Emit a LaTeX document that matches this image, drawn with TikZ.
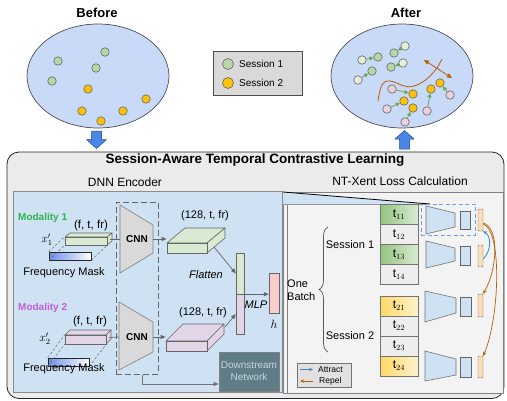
\documentclass[tikz,border=0pt]{standalone}
\usepackage{fontspec}
\setmainfont{Liberation Sans}
\usetikzlibrary{arrows.meta,decorations.pathreplacing,calc,shapes.geometric}
\newcommand{\fsz}[2]{\fontsize{#1pt}{#2pt}\selectfont}
\definecolor{ellfill}{HTML}{C9DAF8}
\definecolor{dotgreen}{HTML}{B6D7A8}
\definecolor{dotpale}{HTML}{E2EFDC}
\definecolor{dotorange}{HTML}{FFC107}
\definecolor{dotpink}{HTML}{EAD1DC}
\definecolor{arrgreen}{HTML}{6AA84F}
\definecolor{brownc}{HTML}{B45F06}
\definecolor{bigbox}{HTML}{EBEBEB}
\definecolor{leftpanel}{HTML}{CFE2F3}
\definecolor{rightpanel}{HTML}{F3F3F3}
\definecolor{boxgreen}{HTML}{D9EAD3}
\definecolor{boxpurple}{HTML}{E1D5E7}
\definecolor{modgreen}{HTML}{2EB34F}
\definecolor{modpurple}{HTML}{BF5FD9}
\definecolor{hpink}{HTML}{F8CECC}
\definecolor{downfill}{HTML}{5F7D87}
\definecolor{downtext}{HTML}{C8D3D9}
\definecolor{tgreenD}{HTML}{93C47D}
\definecolor{tgreenL}{HTML}{D9EAD3}
\definecolor{tyellowD}{HTML}{FFD966}
\definecolor{tyellowL}{HTML}{FFF2CC}
\definecolor{tgray}{HTML}{EEEEEE}
\definecolor{barorange}{HTML}{FCDDB4}
\definecolor{attractblue}{HTML}{3D85C6}
\definecolor{arrowblue}{HTML}{4A86E8}
\definecolor{arrowdark}{HTML}{1C4587}
\definecolor{maskblue}{HTML}{6D8FE8}
\definecolor{legendgray}{HTML}{D9D9D9}
\definecolor{cnngray}{HTML}{D9D9D9}
\definecolor{dashblue}{HTML}{6D9EEB}
\tikzset{
  dot/.style={circle, draw=black!60, line width=0.6pt, minimum size=8.5pt, inner sep=0pt},
  gdot/.style={dot, fill=dotgreen},
  odot/.style={dot, fill=dotorange},
  pdot/.style={dot, fill=dotpale},
  kdot/.style={dot, fill=dotpink},
  garr/.style={arrgreen, line width=0.8pt, -{Triangle[length=4pt,width=4pt]}},
  grayarr/.style={black!60, line width=0.7pt, -{Triangle[length=5pt,width=4pt]}},
  txt/.style={inner sep=0pt},
  tblk/.style={draw=black!55, minimum width=38pt, minimum height=20pt, inner sep=0pt, font=\fsz{12}{14}},
  bar/.style={draw=black!55, fill=barorange, minimum width=5pt, rounded corners=1pt, inner sep=0pt},
  sbox/.style={draw=black!60, fill=leftpanel, inner sep=0pt},
  trap/.style={draw=black!55, fill=leftpanel, line width=0.6pt},
  fbox/.style={draw=black!60, line width=0.6pt, line join=round},
  vec/.style={draw=black!60, minimum width=8pt, inner sep=0pt},
  attract/.style={attractblue, line width=0.8pt, -{Stealth[length=4pt,width=3.5pt]}},
  repel/.style={brownc, line width=0.7pt, -{Stealth[length=4pt,width=3.5pt]}},
}
\begin{document}
\begin{tikzpicture}[x=1pt,y=-1pt]
\useasboundingbox (0,0) rectangle (507,400);

% ---------------- Before ----------------
\node[txt, font=\fsz{13}{15}\bfseries] (before) at (97,13) {Before};
\node[ellipse, draw=black!70, fill=ellfill, line width=0.7pt, minimum width=142pt, minimum height=104pt, inner sep=0pt] (ellB) at (98,76) {};
\node[gdot] (bg1) at (58,61) {};
\node[gdot] (bg2) at (105,52) {};
\node[gdot] (bg3) at (96,68) {};
\node[gdot] (bg4) at (52,81) {};
\node[odot] (bo1) at (88,89) {};
\node[odot] (bo2) at (146,99) {};
\node[odot] (bo3) at (82,111) {};
\node[odot] (bo4) at (123,111) {};
\node[odot] (bo5) at (101,121) {};
\draw[fill=arrowblue, draw=arrowdark, line width=0.5pt, line join=round]
  (91.5,131)--(101.5,131)--(101.5,139.5)--(106.5,139.5)--(96.5,148.5)--(86.5,139.5)--(91.5,139.5)--cycle;

% ---------------- Legend ----------------
\node[draw=black!70, fill=legendgray, line width=0.7pt, minimum width=89pt, minimum height=44pt, inner sep=0pt] (leg) at (257.5,73) {};
\node[dot, fill=dotgreen, minimum size=11pt] (lg) at (228,64) {};
\node[dot, fill=dotorange, minimum size=11pt] (lo) at (228,83) {};
\node[txt, anchor=west, font=\fsz{10}{12}] (lt1) at (239,64) {Session 1};
\node[txt, anchor=west, font=\fsz{10}{12}] (lt2) at (239,83) {Session 2};

% ---------------- After ----------------
\node[txt, font=\fsz{13}{15}\bfseries] (after) at (406,13) {After};
\node[ellipse, draw=black!70, fill=ellfill, line width=0.7pt, minimum width=142pt, minimum height=104pt, inner sep=0pt] (ellA) at (402,76) {};
\draw[brownc, line width=0.8pt] (378,101) .. controls (380,86) and (383,80) .. (390,81)
  .. controls (398,82) and (404,89) .. (414,86) .. controls (425,83) and (436,72) .. (442,59);
\coordinate (da) at (424,60);
\coordinate (db) at (452,78);
\draw[brownc, line width=0.8pt, {Triangle[length=5pt,width=4.5pt]}-{Triangle[length=5pt,width=4.5pt]}] (da) -- (db);
\node[pdot] (a1) at (362,60) {};
\node[gdot] (g1) at (378,57) {};
\node[pdot] (a2) at (358,80) {};
\node[gdot] (g2) at (372,71) {};
\node[pdot] (a3) at (405,46) {};
\node[gdot] (g3) at (394,53) {};
\node[pdot] (a4) at (403,63) {};
\node[gdot] (g4) at (391,67) {};
\node[odot] (o1) at (413,94) {};
\node[odot] (o2) at (404,101) {};
\node[odot] (o3) at (413,108) {};
\node[odot] (o4) at (431,89) {};
\node[odot] (o5) at (440,83) {};
\node[kdot] (k1) at (392,89) {};
\node[kdot] (k2) at (387,109) {};
\node[kdot] (k3) at (405,122) {};
\node[kdot] (k4) at (427,111) {};
\node[kdot] (k5) at (450,95) {};
\foreach \s/\t in {a1/g1,a2/g2,a3/g3,a4/g4,k1/o1,k2/o2,k3/o3,k4/o4,k5/o5}
  \draw[garr] (\s) -- (\t);
\draw[fill=arrowblue, draw=arrowdark, line width=0.5pt, line join=round]
  (404.5,130.5)--(414,139)--(409.5,139)--(409.5,149)--(399.5,149)--(399.5,139)--(395,139)--cycle;

% ---------------- Big box ----------------
\draw[fill=bigbox, draw=black!85, line width=0.8pt, rounded corners=12pt] (7,152) rectangle (504,398.5);
\node[txt, font=\fsz{13.5}{16}\bfseries] (title) at (255,160) {Session-Aware Temporal Contrastive Learning};
\node[txt, font=\fsz{12}{14}] (dnn) at (125,182) {DNN Encoder};
\node[txt, font=\fsz{12}{14}] (ntx) at (400,181) {NT-Xent Loss Calculation};

% left panel
\node[draw=black!45, fill=leftpanel, line width=0.7pt, minimum width=269pt, minimum height=201pt, inner sep=0pt] (leftp) at (147.5,291.5) {};
% right panel
\node[draw=black!50, fill=rightpanel, line width=0.7pt, minimum width=220pt, minimum height=201pt, inner sep=0pt] (rightp) at (393,292.5) {};
\draw[black!50, line width=0.6pt] (287,204) -- (287,393);
\fill[leftpanel] (283,192) -- (430,204) -- (283,204) -- cycle;
\draw[black!40, line width=0.5pt] (283,204) -- (430,204);
\draw[black, line width=0.8pt] (283,192) -- (430,204);

% ---------------- Modality 1 ----------------
\node[txt, anchor=west, font=\fsz{10}{12}\bfseries, text=modgreen] (mod1) at (18,218) {Modality 1};
\node[txt, font=\fsz{11.5}{13}] (ft1) at (91,226) {(f, t, fr)};
\node[txt, font=\fsz{12}{14}] (x1) at (47,240) {$x'_{1}$};
\draw[fbox, fill=boxgreen] (65,237) -- (107,237) -- (112,233) -- (70,233) -- cycle;
\draw[fbox, fill=boxgreen] (107,237) -- (112,233) -- (112,241) -- (107,245) -- cycle;
\node[draw=black!85, line width=0.6pt, left color=maskblue, right color=white, minimum width=42pt, minimum height=8pt, inner sep=0pt] (mask1) at (70,256) {};
\node[draw=black!60, fill=boxgreen, line width=0.6pt, minimum width=42pt, minimum height=8pt, inner sep=0pt] (in1) at (86,241) {};
\draw[black!60, dashed, dash pattern=on 2.5pt off 2pt, line width=0.5pt] (mask1.north west) -- (in1.north west);
\draw[black!60, dashed, dash pattern=on 2.5pt off 2pt, line width=0.5pt] (mask1.south west) -- (in1.south west);
\draw[black!60, dashed, dash pattern=on 2.5pt off 2pt, line width=0.5pt] (mask1.south east) -- (in1.south east);
\node[txt, font=\fsz{11}{13}] (fm1) at (64,273) {Frequency Mask};

% ---------------- Modality 2 ----------------
\node[txt, anchor=west, font=\fsz{10}{12}\bfseries, text=modpurple] (mod2) at (18,308) {Modality 2};
\node[txt, font=\fsz{11.5}{13}] (ft2) at (90,322) {(f, t, fr)};
\node[txt, font=\fsz{12}{14}] (x2) at (45,339) {$x'_{2}$};
\draw[fbox, fill=boxpurple] (65,335) -- (106,335) -- (111,330) -- (70,330) -- cycle;
\draw[fbox, fill=boxpurple] (106,335) -- (111,330) -- (111,339) -- (106,344) -- cycle;
\node[draw=black!85, line width=0.6pt, left color=maskblue, right color=white, minimum width=41pt, minimum height=8pt, inner sep=0pt] (mask2) at (68.5,362) {};
\node[draw=black!60, fill=boxpurple, line width=0.6pt, minimum width=41pt, minimum height=9pt, inner sep=0pt] (in2) at (85.5,339.5) {};
\draw[black!60, dashed, dash pattern=on 2.5pt off 2pt, line width=0.5pt] (mask2.north west) -- (in2.north west);
\draw[black!60, dashed, dash pattern=on 2.5pt off 2pt, line width=0.5pt] (mask2.south west) -- (in2.south west);
\draw[black!60, dashed, dash pattern=on 2.5pt off 2pt, line width=0.5pt] (mask2.south east) -- (in2.south east);
\node[txt, font=\fsz{11}{13}] (fm2) at (64,369) {Frequency Mask};

% ---------------- CNN ----------------
\node[draw=black!60, dashed, dash pattern=on 6pt off 3pt, line width=1pt, minimum width=42pt, minimum height=172pt, inner sep=0pt] (cnnbox) at (137,288) {};
\draw[trap, fill=cnngray, draw=black!50] (120,205) -- (153,225) -- (153,253) -- (120,273) -- cycle;
\draw[trap, fill=cnngray, draw=black!50] (119,302) -- (153,322) -- (153,352) -- (119,370) -- cycle;
\node[txt, font=\fsz{10}{12}\bfseries] (cnn1) at (137,239) {CNN};
\node[txt, font=\fsz{10}{12}\bfseries] (cnn2) at (137,337) {CNN};
\coordinate (c1l) at (120,239);
\coordinate (c1r) at (153,239);
\coordinate (c2l) at (119,337);
\coordinate (c2r) at (153,337);
\draw[black!60, line width=0.7pt] (in1.east) ++(3,-2) -- (c1l);
\draw[black!60, line width=0.7pt] (in2.east) ++(3,-2) -- (c2l);

% feature boxes
\draw[fbox, fill=boxgreen] (167,243) -- (207,243) -- (225,228) -- (185,228) -- cycle;
\draw[fbox, fill=boxgreen] (207,243) -- (225,228) -- (225,238) -- (207,253) -- cycle;
\node[draw=black!60, fill=boxgreen, line width=0.6pt, minimum width=40pt, minimum height=10pt, inner sep=0pt] (fb1) at (187,248) {};
\draw[fbox, fill=boxpurple] (166,341) -- (207,341) -- (224,324) -- (183,324) -- cycle;
\draw[fbox, fill=boxpurple] (207,341) -- (224,324) -- (224,334) -- (207,351) -- cycle;
\node[draw=black!60, fill=boxpurple, line width=0.6pt, minimum width=41pt, minimum height=10pt, inner sep=0pt] (fb2) at (186.5,346) {};
\draw[grayarr] (c1r) -- (fb1.west |- c1r);
\draw[grayarr] (c2r) -- (fb2.west |- c2r);
\node[txt, font=\fsz{11}{13}] (l128a) at (205,216) {(128, t, fr)};
\node[txt, font=\fsz{11}{13}] (l128b) at (203,313) {(128, t, fr)};

% vectors
\node[vec, fill=boxgreen, minimum height=41pt] (v1) at (240,273.5) {};
\node[vec, fill=boxpurple, minimum height=40pt] (v2) at (240,314) {};
\coordinate (fb1c) at (214,247);
\coordinate (fb2c) at (225,327);
\draw[grayarr] (fb1c) -- (v1.west);
\draw[grayarr] (fb2c) -- (v2.west);
\node[txt, font=\fsz{11}{13}\itshape] (flat) at (206,275) {Flatten};
\node[draw=black!60, fill=hpink, minimum width=10pt, minimum height=40pt, inner sep=0pt] (h) at (274,293) {};
\draw[grayarr] (v1.south east) ++(1,0) -- (h.west |- v1.south);
\node[txt, font=\fsz{11}{13}\itshape] (mlp) at (256,305) {MLP};
\node[txt, font=\fsz{12}{14}] (hl) at (274,324) {$h$};

% downstream
\node[fill=downfill, draw=black!50, line width=0.6pt, minimum width=60pt, minimum height=39pt, inner sep=0pt, align=center, text=downtext, font=\fsz{10}{12}] (down) at (249,371.5) {Downstream\\Network};
\coordinate (dcorner) at (142,384);
\draw[black!55, line width=0.7pt, -{Triangle[length=5pt,width=4pt]}] ([xshift=5pt]cnnbox.south) -- (dcorner) -- (down.west |- dcorner);

% ---------------- NT-Xent ----------------
\node[tblk, left color=tgreenD, right color=tgreenL] (t11) at (399,214.5) {$\mathrm{t}_{11}$};
\node[tblk, fill=tgray] (t12) at (399,234.5) {$\mathrm{t}_{12}$};
\node[tblk, left color=tgreenD, right color=tgreenL] (t13) at (399,254.5) {$\mathrm{t}_{13}$};
\node[tblk, fill=tgray] (t14) at (399,274.5) {$\mathrm{t}_{14}$};
\node[tblk, left color=tyellowD, right color=tyellowL] (t21) at (399,306) {$\mathrm{t}_{21}$};
\node[tblk, fill=tgray] (t22) at (399,326) {$\mathrm{t}_{22}$};
\node[tblk, fill=tgray] (t23) at (399,346) {$\mathrm{t}_{23}$};
\node[tblk, left color=tyellowD, right color=tyellowL] (t24) at (399,366) {$\mathrm{t}_{24}$};

\draw[trap] (426,206) -- (455,213) -- (455,227) -- (426,234) -- cycle;
\draw[trap] (426,241) -- (455,248) -- (455,261) -- (426,268) -- cycle;
\draw[trap] (425,291) -- (456,298) -- (456,313) -- (425,322) -- cycle;
\draw[trap] (425,351) -- (456,359) -- (456,375) -- (425,381) -- cycle;
\node[sbox, minimum width=10pt, minimum height=18pt] (s1) at (465,220) {};
\node[sbox, minimum width=10pt, minimum height=19pt] (s2) at (465,255.5) {};
\node[sbox, minimum width=11pt, minimum height=19pt] (s3) at (465.5,306.5) {};
\node[sbox, minimum width=11pt, minimum height=20pt] (s4) at (465.5,367) {};
\node[bar, minimum height=22pt] (b1) at (480.5,220) {};
\node[bar, minimum height=22pt] (b2) at (480.5,256) {};
\node[bar, minimum height=23pt] (b3) at (480.5,305.5) {};
\node[bar, minimum height=22pt] (b4) at (480.5,367) {};
\node[draw=dashblue, dashed, dash pattern=on 4pt off 2.5pt, line width=1pt, minimum width=54pt, minimum height=31pt, inner sep=0pt] (sel) at (448,219.5) {};

\draw[attract] ([yshift=-3pt]b2.east) .. controls (492,250) and (491,236) .. (b1.south east);
\draw[repel] ([yshift=-3pt]b1.east) .. controls (500,228) and (497,270) .. (b3.north east);
\draw[repel] ([yshift=-4pt]b1.east) .. controls (503,232) and (499,320) .. (b4.north east);

\draw[black!65, line width=0.7pt, decorate, decoration={brace, amplitude=9pt}] (328,352) -- (328,227);
\node[txt, font=\fsz{11}{13}, align=left, anchor=west] (batch) at (287,290.5) {One\\Batch};
\node[txt, font=\fsz{11}{13}] (ses1) at (350,245) {Session 1};
\node[txt, font=\fsz{11}{13}] (ses2) at (350,336) {Session 2};

% legend small
\node[draw=black!55, fill=legendgray!80!white, line width=0.7pt, minimum width=54pt, minimum height=24pt, inner sep=0pt] (leg2) at (324,375) {};
\coordinate (la1) at (300,369.5);
\coordinate (la2) at (313,369.5);
\coordinate (lr1) at (313,381);
\coordinate (lr2) at (300,381);
\draw[attract] (la1) -- (la2);
\draw[repel] (lr1) -- (lr2);
\node[txt, anchor=west, font=\fsz{8.5}{10}] (att) at (318,369.5) {Attract};
\node[txt, anchor=west, font=\fsz{8.5}{10}] (rep) at (319,381) {Repel};
\end{tikzpicture}
\end{document}
